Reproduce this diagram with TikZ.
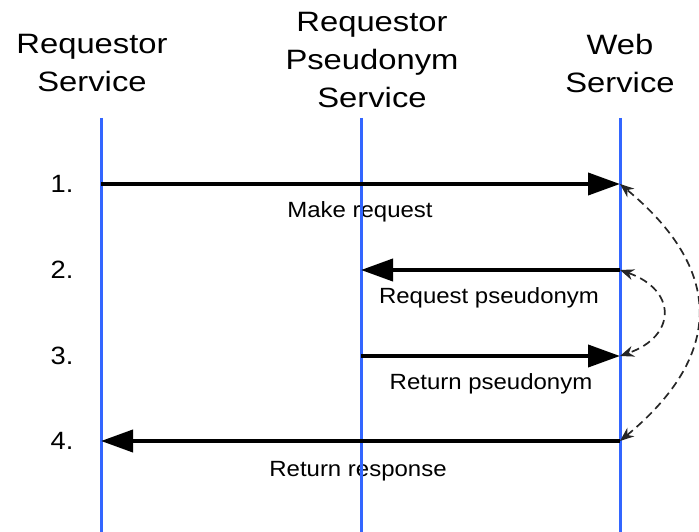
\documentclass[tikz,border=0pt]{standalone}
\usepackage{fontspec}
\setmainfont{Liberation Sans}
\newfontfamily\hdrfont[FakeStretch=1.17]{Liberation Sans}
\newfontfamily\lblfont[FakeStretch=1.09]{Liberation Sans}
\usepackage{tikz}
\usetikzlibrary{arrows.meta}
\definecolor{lifeblue}{RGB}{51,102,255}

\begin{document}
\begin{tikzpicture}[x=1pt, y=-1pt,
  hdr/.style={align=center, inner sep=0pt, font=\hdrfont\fontsize{28}{38}\selectfont},
  lbl/.style={inner sep=0pt, font=\lblfont\fontsize{22}{26}\selectfont},
  num/.style={inner sep=0pt, font=\lblfont\fontsize{25}{30}\selectfont},
  life/.style={draw=lifeblue, line width=3pt},
  msg/.style={line width=4pt, -{Triangle[length=32pt, width=22pt]}},
  back/.style={dashed, dash pattern=on 8pt off 5pt, line width=1.7pt, black!85,
    {Stealth[length=14pt, width=11pt]}-{Stealth[length=14pt, width=11pt]}}]
  \useasboundingbox (0,0) rectangle (699,532);
  % column heads
  \node[hdr] (rs) at (92,63) {Requestor\\Service};
  \node[hdr] (ps) at (372,60) {Requestor\\Pseudonym\\Service};
  \node[hdr] (ws) at (620,63) {Web\\Service};
  \foreach \n/\y in {1/184,2/270,3/356,4/441}{
    \node[num] (n\n) at (62,\y) {\n.};
    \coordinate (a\n) at (101,\y);
    \coordinate (b\n) at (361,\y);
    \coordinate (c\n) at (620,\y);
  }
  % message labels
  \node[lbl] (l1) at (360,212) {Make request};
  \node[lbl] (l2) at (489,298) {Request pseudonym};
  \node[lbl] (l3) at (491,384) {Return pseudonym};
  \node[lbl] (l4) at (358,471) {Return response};
  % life lines
  \foreach \c/\x in {a/101,b/361,c/620}{
    \coordinate (\c top) at (\x,118);
    \coordinate (\c bot) at (\x,532);
    \draw[life] (\c top) -- (\c bot);
  }
  \draw[msg] (a1) -- (c1);
  \draw[msg] (c2) -- (b2);
  \draw[msg] (b3) -- (c3);
  \draw[msg] (c4) -- (a4);
  \draw[back] (c4) .. controls (724,355) and (724,270) .. (c1);
  \draw[back] (c2) .. controls (677,290) and (677,336) .. (c3);
\end{tikzpicture}
\end{document}
